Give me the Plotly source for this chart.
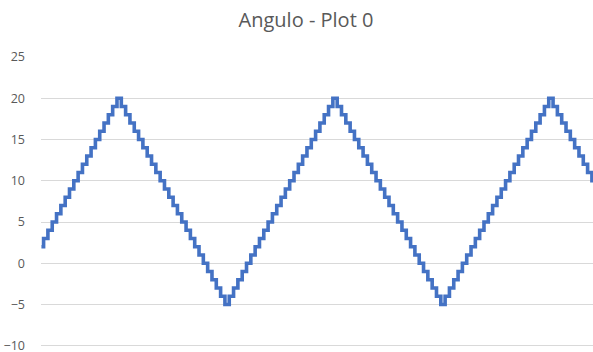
import plotly.graph_objects as go

title_text = "Angulo - Plot 0"
y_ticks = [-10, -5, 0, 5, 10, 15, 20, 25]

angle_values = [
    2, 3, 3, 4, 4, 5, 5, 6, 6, 7, 7, 8, 8, 9, 9, 10, 10, 11, 11,
    12, 12, 13, 13, 14, 14, 15, 15, 16, 16, 17, 17, 18, 18, 19, 19, 20, 20,
    19, 19, 18, 18, 17, 17, 16, 16, 15, 15, 14, 14, 13, 13, 12, 12, 11, 11,
    10, 10, 9, 9, 8, 8, 7, 7, 6, 6, 5, 5, 4, 4, 3, 3, 2, 2, 1, 1, 0, 0,
    -1, -1, -2, -2, -3, -3, -4, -4, -5, -5,
    -4, -4, -3, -3, -2, -2, -1, -1, 0, 0, 1, 1, 2, 2, 3, 3, 4, 4, 5, 5,
    6, 6, 7, 7, 8, 8, 9, 9, 10, 10, 11, 11, 12, 12, 13, 13, 14, 14, 15, 15,
    16, 16, 17, 17, 18, 18, 19, 19, 20, 20,
    19, 19, 18, 18, 17, 17, 16, 16, 15, 15, 14, 14, 13, 13, 12, 12, 11, 11,
    10, 10, 9, 9, 8, 8, 7, 7, 6, 6, 5, 5, 4, 4, 3, 3, 2, 2, 1, 1, 0, 0,
    -1, -1, -2, -2, -3, -3, -4, -4, -5, -5,
    -4, -4, -3, -3, -2, -2, -1, -1, 0, 0, 1, 1, 2, 2, 3, 3, 4, 4, 5, 5,
    6, 6, 7, 7, 8, 8, 9, 9, 10, 10, 11, 11, 12, 12, 13, 13, 14, 14, 15, 15,
    16, 16, 17, 17, 18, 18, 19, 19, 20, 20,
    19, 19, 18, 18, 17, 17, 16, 16, 15, 15, 14, 14, 13, 13, 12, 12, 11, 11,
    10, 10,
]
sample_index = list(range(len(angle_values)))

fig = go.Figure()
fig.add_trace(go.Scatter(
    x=sample_index, y=angle_values, mode="lines",
    line=dict(color="#4472C4", width=3.6, shape="hv"),
    hoverinfo="skip",
))

fig.update_layout(
    width=593, height=352,
    margin=dict(l=41, r=0, t=57, b=5, autoexpand=False),
    paper_bgcolor="white", plot_bgcolor="white",
    showlegend=False,
    title=dict(text=title_text, x=306 / 593, xanchor="center",
               y=1 - 20 / 352, yanchor="middle",
               font=dict(family="Open Sans", size=20, color="#595959")),
    xaxis=dict(range=[-0.2, 255.5], showgrid=False, showticklabels=False,
               zeroline=False, showline=False, ticks="", automargin=False),
    yaxis=dict(range=[-10.15, 25], tickvals=y_ticks, showgrid=True,
               gridcolor="#D9D9D9", gridwidth=1, zeroline=False, showline=False,
               ticks="", ticklabelstandoff=15, automargin=False,
               ticklabeloverflow="allow",
               tickfont=dict(family="Open Sans", size=12.5, color="#595959")),
)

fig.write_html(
    "out.html",
    config={"displayModeBar": False},
    post_script="document.body.style.margin='0px';document.body.style.overflow='hidden';",
)
